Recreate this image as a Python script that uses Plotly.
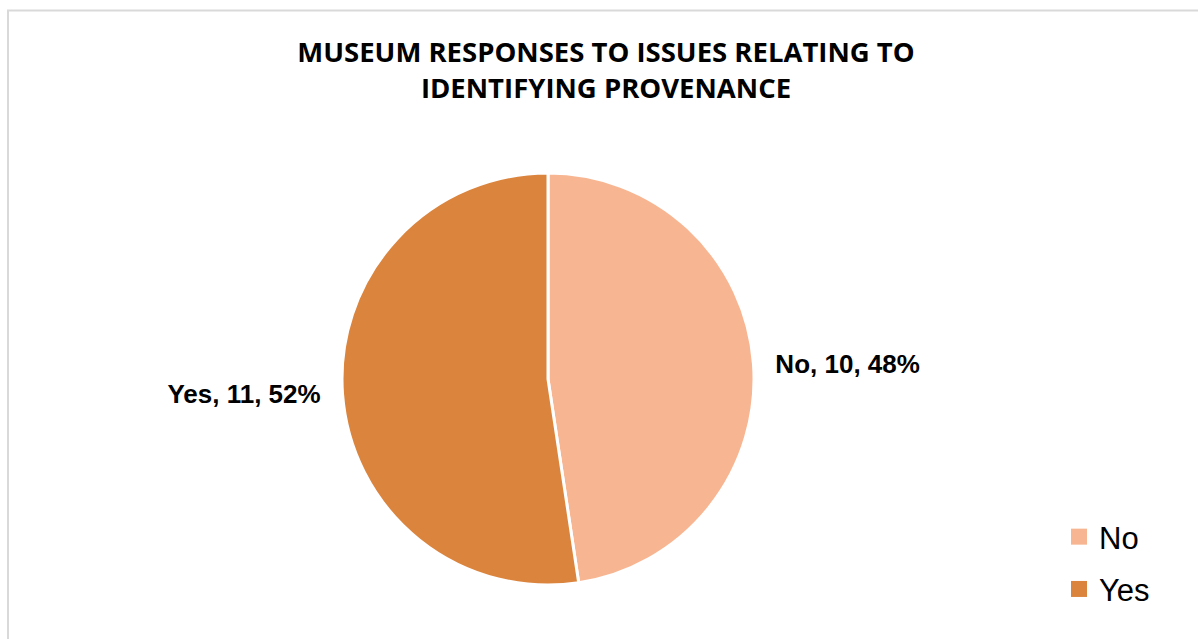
import plotly.graph_objects as go

# Survey answers
answers = ["No", "Yes"]
counts = [10, 11]
slice_colors = ["#F8B591", "#DB843D"]

title_text = "MUSEUM RESPONSES TO ISSUES RELATING TO<br>IDENTIFYING PROVENANCE"

W, H = 1198, 639
NBSP = "\u00a0"

fig = go.Figure()

fig.add_trace(
    go.Pie(
        labels=answers,
        values=counts,
        sort=False,
        direction="clockwise",
        rotation=0,
        marker=dict(colors=slice_colors, line=dict(color="white", width=3)),
        textposition="outside",
        # a little breathing room between each label and the pie edge
        texttemplate=[
            NBSP + NBSP + "%{label}, %{value}, %{percent:.0%}",
            "%{label}, %{value}, %{percent:.0%}" + NBSP + NBSP,
        ],
        textfont=dict(family="Liberation Sans, Arial", size=26, color="black", weight="bold"),
        hoverinfo="label+value+percent",
        domain=dict(x=[(548 - 206) / W, (548 + 206) / W], y=[(H - 585) / H, (H - 173) / H]),
        automargin=False,
        showlegend=False,
    )
)

# Legend entries with square swatches, one per answer
for name, color in zip(answers, slice_colors):
    fig.add_trace(
        go.Scatter(
            x=[None],
            y=[None],
            mode="markers",
            name=name,
            legendgroup=name,
            marker=dict(symbol="square", size=17, color=color),
            hoverinfo="skip",
        )
    )

fig.update_layout(
    width=W,
    height=H,
    margin=dict(l=0, r=0, t=0, b=0, autoexpand=False),
    paper_bgcolor="white",
    plot_bgcolor="white",
    xaxis=dict(visible=False),
    yaxis=dict(visible=False),
    title=dict(
        text=title_text,
        font=dict(family="Open Sans", size=27.5, color="black", weight="bold"),
        x=606 / W,
        xanchor="center",
        xref="container",
        y=1 - 62 / H,
        yanchor="top",
        yref="container",
    ),
    legend=dict(
        font=dict(family="Liberation Sans, Arial", size=31, color="black"),
        x=1059 / W,
        xanchor="left",
        y=1 - 510 / H,
        yanchor="top",
        tracegroupgap=9,
        itemsizing="trace",
        bgcolor="rgba(0,0,0,0)",
    ),
    shapes=[
        dict(
            type="rect",
            xref="paper",
            yref="paper",
            x0=8 / W,
            x1=1.02,
            y0=-0.02,
            y1=1 - 10.5 / H,
            line=dict(color="#D9D9D9", width=2),
            fillcolor="rgba(0,0,0,0)",
            layer="below",
        )
    ],
)

fig.write_html("out.html")
